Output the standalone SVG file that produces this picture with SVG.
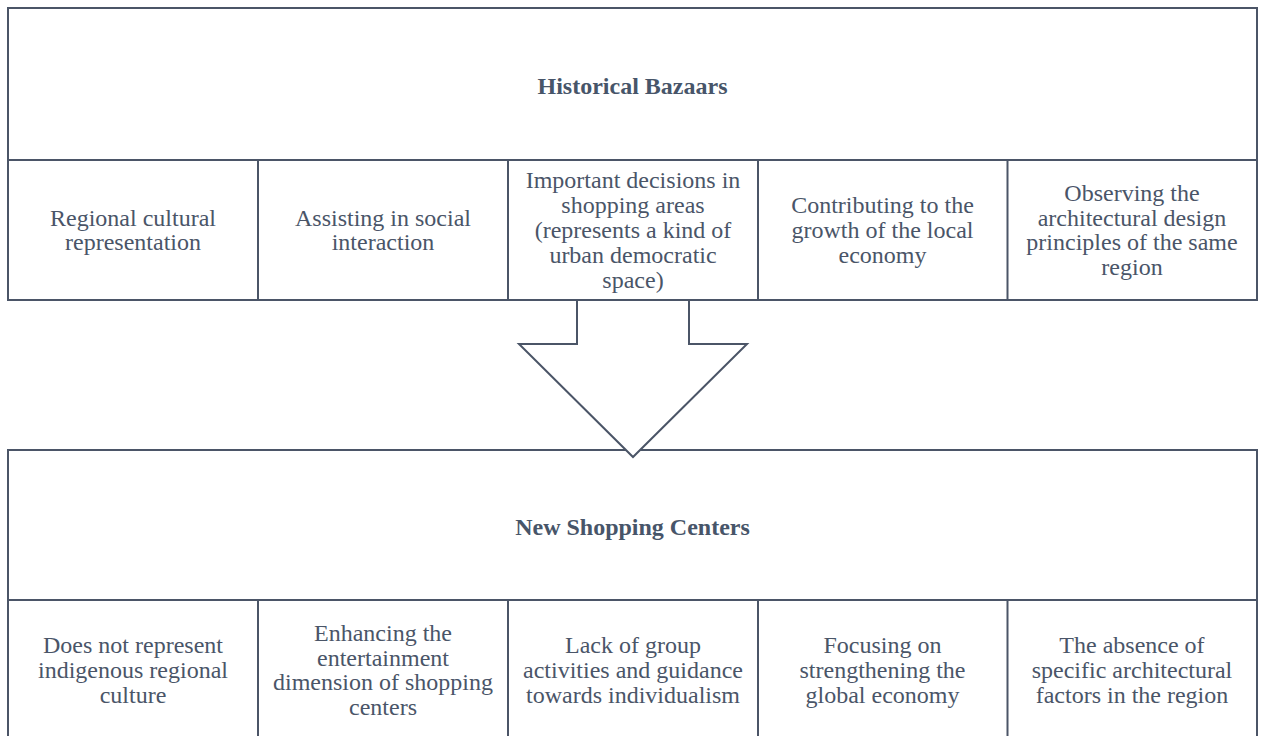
<svg xmlns="http://www.w3.org/2000/svg" width="1262" height="736" viewBox="0 0 1262 736">
<style>
.box{fill:#fff;stroke:#4b5567;stroke-width:2}
.ln{stroke:#4b5567;stroke-width:2;fill:none}
.t{font-family:"Liberation Serif","Times New Roman",serif;font-size:24px;fill:#4a5568;text-anchor:middle}
.h{font-family:"Liberation Serif","Times New Roman",serif;font-size:24px;font-weight:bold;fill:#475569;text-anchor:middle}
</style>
<rect width="1262" height="736" fill="#fff"/>
<g id="historical-bazaars">
<rect class="box" x="8" y="8" width="1249" height="292"/>
<line class="ln" x1="8" y1="160" x2="1257" y2="160"/>
<text class="h" x="632.5" y="94">Historical Bazaars</text>
</g>
<g id="hb-cell1">
<text class="t" x="133" y="225.6">Regional cultural<tspan x="133" dy="24.8">representation</tspan></text>
</g>
<g id="hb-cell2">
<line class="ln" x1="258" y1="160" x2="258" y2="300"/>
<text class="t" x="383" y="225.6">Assisting in social<tspan x="383" dy="24.8">interaction</tspan></text>
</g>
<g id="hb-cell3">
<line class="ln" x1="508" y1="160" x2="508" y2="300"/>
<text class="t" x="633" y="188.4">Important decisions in<tspan x="633" dy="24.8">shopping areas</tspan><tspan x="633" dy="24.8">(represents a kind of</tspan><tspan x="633" dy="24.8">urban democratic</tspan><tspan x="633" dy="24.8">space)</tspan></text>
</g>
<g id="hb-cell4">
<line class="ln" x1="758" y1="160" x2="758" y2="300"/>
<text class="t" x="882.5" y="213.2">Contributing to the<tspan x="882.5" dy="24.8">growth of the local</tspan><tspan x="882.5" dy="24.8">economy</tspan></text>
</g>
<g id="hb-cell5">
<line class="ln" x1="1007.5" y1="160" x2="1007.5" y2="300"/>
<text class="t" x="1132" y="200.8">Observing the<tspan x="1132" dy="24.8">architectural design</tspan><tspan x="1132" dy="24.8">principles of the same</tspan><tspan x="1132" dy="24.8">region</tspan></text>
</g>
<g id="new-shopping-centers">
<rect class="box" x="8" y="450" width="1249" height="300"/>
<line class="ln" x1="8" y1="600" x2="1257" y2="600"/>
<text class="h" x="632.5" y="535">New Shopping Centers</text>
</g>
<g id="nsc-cell1">
<text class="t" x="133" y="653.2">Does not represent<tspan x="133" dy="24.8">indigenous regional</tspan><tspan x="133" dy="24.8">culture</tspan></text>
</g>
<g id="nsc-cell2">
<line class="ln" x1="258" y1="600" x2="258" y2="740"/>
<text class="t" x="383" y="640.8">Enhancing the<tspan x="383" dy="24.8">entertainment</tspan><tspan x="383" dy="24.8">dimension of shopping</tspan><tspan x="383" dy="24.8">centers</tspan></text>
</g>
<g id="nsc-cell3">
<line class="ln" x1="508" y1="600" x2="508" y2="740"/>
<text class="t" x="633" y="653.2">Lack of group<tspan x="633" dy="24.8">activities and guidance</tspan><tspan x="633" dy="24.8">towards individualism</tspan></text>
</g>
<g id="nsc-cell4">
<line class="ln" x1="758" y1="600" x2="758" y2="740"/>
<text class="t" x="882.5" y="653.2">Focusing on<tspan x="882.5" dy="24.8">strengthening the</tspan><tspan x="882.5" dy="24.8">global economy</tspan></text>
</g>
<g id="nsc-cell5">
<line class="ln" x1="1007.5" y1="600" x2="1007.5" y2="740"/>
<text class="t" x="1132" y="653.2">The absence of<tspan x="1132" dy="24.8">specific architectural</tspan><tspan x="1132" dy="24.8">factors in the region</tspan></text>
</g>
<g id="connectors">
<polygon class="box" points="577,300 577,344 519,344 633,457 747,344 689,344 689,300"/>
</g>
</svg>
